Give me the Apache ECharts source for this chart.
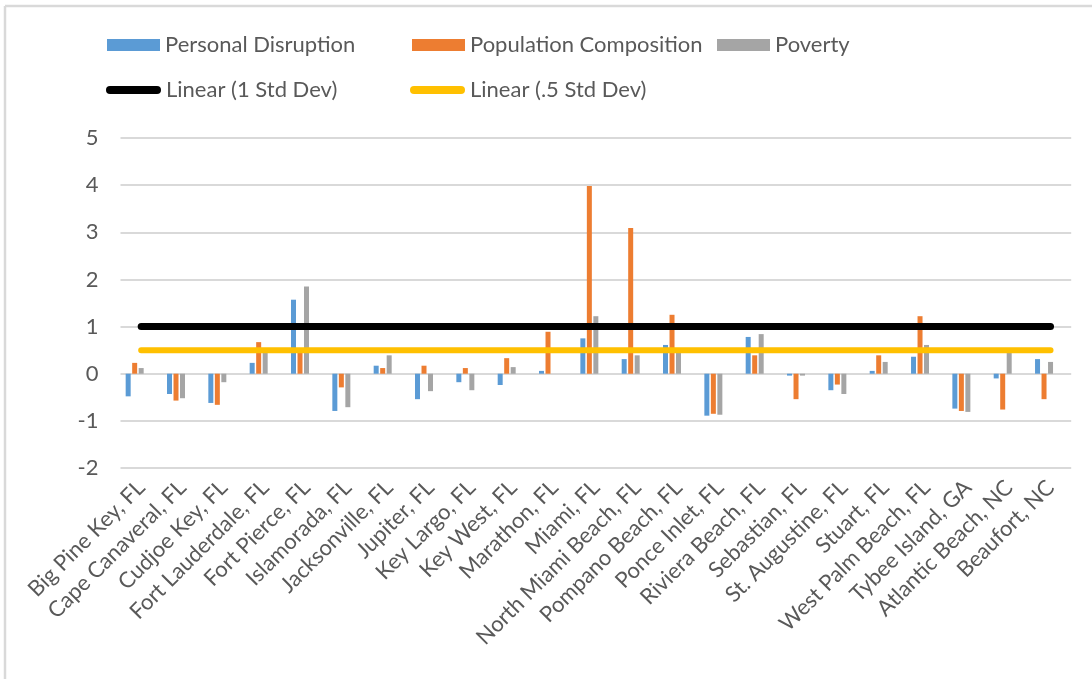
<!DOCTYPE html>
<html>
<head>
<meta charset="utf-8">
<script src="https://cdn.jsdelivr.net/npm/echarts@6/dist/echarts.min.js"></script>
<style>
html,body{margin:0;padding:0;background:#fff;}
#chart{width:1092px;height:679px;}
</style>
</head>
<body>
<div id="chart"></div>
<script>
var cities = ["Big Pine Key, FL","Cape Canaveral, FL","Cudjoe Key, FL","Fort Lauderdale, FL","Fort Pierce, FL","Islamorada, FL","Jacksonville, FL","Jupiter, FL","Key Largo, FL","Key West, FL","Marathon, FL","Miami, FL","North Miami Beach, FL","Pompano Beach, FL","Ponce Inlet, FL","Riviera Beach, FL","Sebastian, FL","St. Augustine, FL","Stuart, FL","West Palm Beach, FL","Tybee Island, GA","Atlantic Beach, NC","Beaufort, NC"];
var personalDisruption = [-0.48,-0.43,-0.62,0.23,1.57,-0.79,0.17,-0.54,-0.18,-0.24,0.06,0.75,0.31,0.61,-0.89,0.78,-0.04,-0.35,0.06,0.36,-0.74,-0.10,0.31];
var populationComposition = [0.23,-0.57,-0.66,0.67,0.46,-0.29,0.12,0.17,0.12,0.33,0.89,3.98,3.09,1.25,-0.85,0.39,-0.54,-0.23,0.39,1.22,-0.79,-0.76,-0.54];
var poverty = [0.12,-0.52,-0.18,0.45,1.85,-0.71,0.39,-0.37,-0.35,0.14,0,1.22,0.39,0.45,-0.87,0.84,-0.04,-0.43,0.25,0.61,-0.81,0.45,0.25];
var oneStdDev = [1,1,1,1,1,1,1,1,1,1,1,1,1,1,1,1,1,1,1,1,1,1,1];
var halfStdDev = [0.5,0.5,0.5,0.5,0.5,0.5,0.5,0.5,0.5,0.5,0.5,0.5,0.5,0.5,0.5,0.5,0.5,0.5,0.5,0.5,0.5,0.5,0.5];
var yTicks = [-2,-1,0,1,2,3,4,5];

var FONT = 'Lato, "Open Sans", sans-serif';
var TXT = '#595959';
var chart = echarts.init(document.getElementById('chart'), null, {renderer:'canvas'});

var lineIcon = 'path://M4,0 H51 A4,4 0 0 1 51,8 H4 A4,4 0 0 1 4,0 Z';
function leg(name, left, top, icon, w, h) {
  return {
    data:[name], left:left, top:top, padding:0, icon:icon,
    itemWidth:w, itemHeight:h, selectedMode:false,
    textStyle:{fontFamily:FONT, fontSize:22, color:TXT, lineHeight:24, padding:[0,0,0,0]}
  };
}
var barCommon = {type:'bar', barWidth:5, barGap:'30%'};

chart.setOption({
  animation:false,
  backgroundColor:'#fff',
  graphic:[
    {type:'line', shape:{x1:5, y1:6, x2:1092, y2:6}, style:{stroke:'#D9D9D9', lineWidth:2.5}},
    {type:'line', shape:{x1:5, y1:6, x2:5, y2:679}, style:{stroke:'#D9D9D9', lineWidth:2.5}}
  ],
  legend:[
    leg('Personal Disruption', 107, 33, 'rect', 53, 12),
    leg('Population Composition', 412, 33, 'rect', 53, 12),
    leg('Poverty', 717, 33, 'rect', 53, 12),
    leg('Linear (1 Std Dev)', 106, 78, lineIcon, 55, 8),
    leg('Linear (.5 Std Dev)', 410, 78, lineIcon, 55, 8)
  ],
  grid:{left:120.5, right:20.8, top:138, bottom:211, containLabel:false},
  xAxis:{
    type:'category', data:cities, boundaryGap:true,
    axisLine:{show:false}, axisTick:{show:false}, splitLine:{show:false},
    axisLabel:{interval:0, rotate:45, margin:16, fontFamily:FONT, fontSize:22, color:TXT}
  },
  yAxis:{
    type:'value', min:yTicks[0], max:yTicks[yTicks.length-1], interval:1,
    axisLine:{show:false}, axisTick:{show:false},
    axisLabel:{margin:22, fontFamily:FONT, fontSize:22, color:TXT},
    splitLine:{lineStyle:{color:'#D9D9D9', width:2}}
  },
  series:[
    Object.assign({}, barCommon, {name:'Personal Disruption', data:personalDisruption, itemStyle:{color:'#5B9BD5'}}),
    Object.assign({}, barCommon, {name:'Population Composition', data:populationComposition, itemStyle:{color:'#ED7D31'}}),
    Object.assign({}, barCommon, {name:'Poverty', data:poverty, itemStyle:{color:'#A5A5A5'}}),
    Object.assign({}, barCommon, {name:'1 Std Dev', data:[], itemStyle:{color:'rgba(0,0,0,0)'}}),
    Object.assign({}, barCommon, {name:'.5 Std Dev', data:[], itemStyle:{color:'rgba(0,0,0,0)'}}),
    {type:'line', name:'Linear (1 Std Dev)', data:oneStdDev, z:5, symbol:'none', silent:true,
     itemStyle:{color:'#000000'}, lineStyle:{color:'#000000', width:7, cap:'round'}},
    {type:'line', name:'Linear (.5 Std Dev)', data:halfStdDev, z:5, symbol:'none', silent:true,
     itemStyle:{color:'#FFC000'}, lineStyle:{color:'#FFC000', width:6, cap:'round'}}
  ]
});
</script>
</body>
</html>
